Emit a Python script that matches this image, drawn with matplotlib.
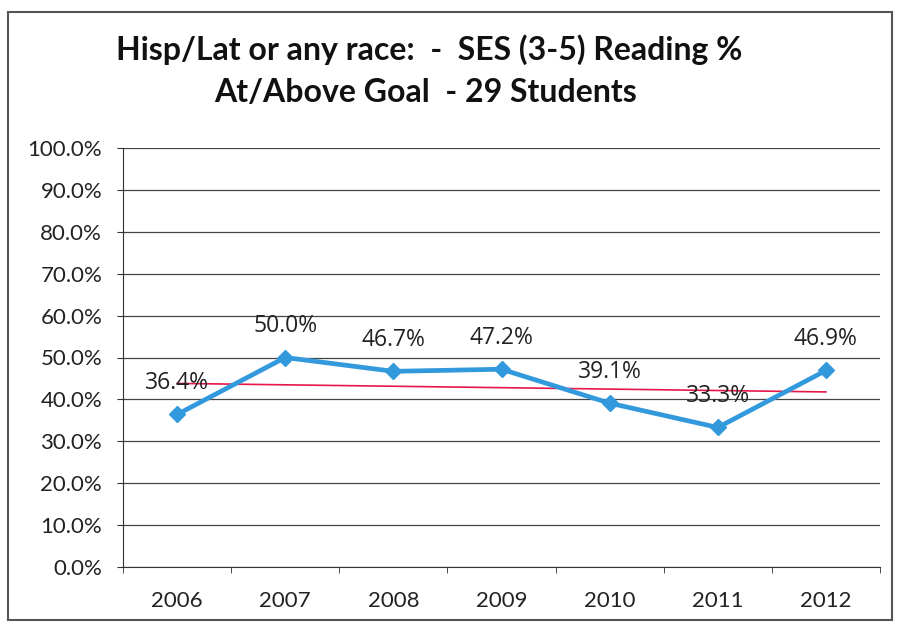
import matplotlib
matplotlib.use("Agg")
import matplotlib.pyplot as plt
import numpy as np
from matplotlib.patches import Rectangle

years = ["2006", "2007", "2008", "2009", "2010", "2011", "2012"]
values = [36.4, 50.0, 46.7, 47.2, 39.1, 33.3, 46.9]
labels = ["36.4%", "50.0%", "46.7%", "47.2%", "39.1%", "33.3%", "46.9%"]
title_lines = ["Hisp/Lat or any race:  -  SES (3-5) Reading %", "At/Above Goal  - 29 Students"]

fig = plt.figure(figsize=(8.97, 6.24), dpi=100)
fig.patch.set_facecolor("white")
ax = fig.add_axes([123/897, 1-567/624, (880-123)/897, (567-148)/624])

x = np.arange(len(years))
ax.plot(x, values, color="#3399dd", lw=3.4, marker="D", ms=8, mfc="#3399dd", mec="#3399dd", zorder=4)

# linear trendline
coef = np.polyfit(x, values, 1)
ax.plot([x[0], x[-1]], np.polyval(coef, [x[0], x[-1]]), color="#e8174a", lw=1.2, zorder=3)

for xi, v, lab in zip(x, values, labels):
    ax.annotate(lab, (xi, v), xytext=(0, 22.5), textcoords="offset points", ha="center", va="center",
                fontsize=16.5, family=["Open Sans", "DejaVu Sans"], color="#222222", zorder=5)

ax.set_xlim(-0.5, len(years)-0.5)
ax.set_ylim(0, 100)
ax.set_yticks(np.arange(0, 101, 10))
ax.set_yticklabels([f"{v:.1f}%" for v in np.arange(0, 101, 10)], fontsize=16, family="Lato", color="#222222")
ax.yaxis.grid(True, color="#444444", lw=0.9)
ax.set_axisbelow(True)
ax.set_xticks(x)
ax.set_xticklabels(years, fontsize=16, family="Lato", color="#222222")
ax.set_xticks(np.arange(-0.5, len(years), 1), minor=True)
ax.tick_params(axis="x", which="major", length=0, pad=17)
ax.tick_params(axis="x", which="minor", length=4.5, color="#333333", direction="out")
ax.tick_params(axis="y", length=4.5, color="#333333", pad=10.5)
for s in ["top", "right"]:
    ax.spines[s].set_visible(False)
ax.spines["left"].set_color("#333333")
ax.spines["bottom"].set_color("#333333")

fig.text(429/897, 1-50/624, title_lines[0], ha="center", va="center", fontsize=23,
         fontweight="bold", family="Lato", color="#111111")
fig.text(426/897, 1-92/624, title_lines[1], ha="center", va="center", fontsize=23,
         fontweight="bold", family="Lato", color="#111111")

fig.add_artist(Rectangle((8/897, 1-620/624), (892-8)/897, (620-12)/624, transform=fig.transFigure,
                         fill=False, edgecolor="#555555", lw=1.5))

fig.savefig("out.png", dpi=100)
